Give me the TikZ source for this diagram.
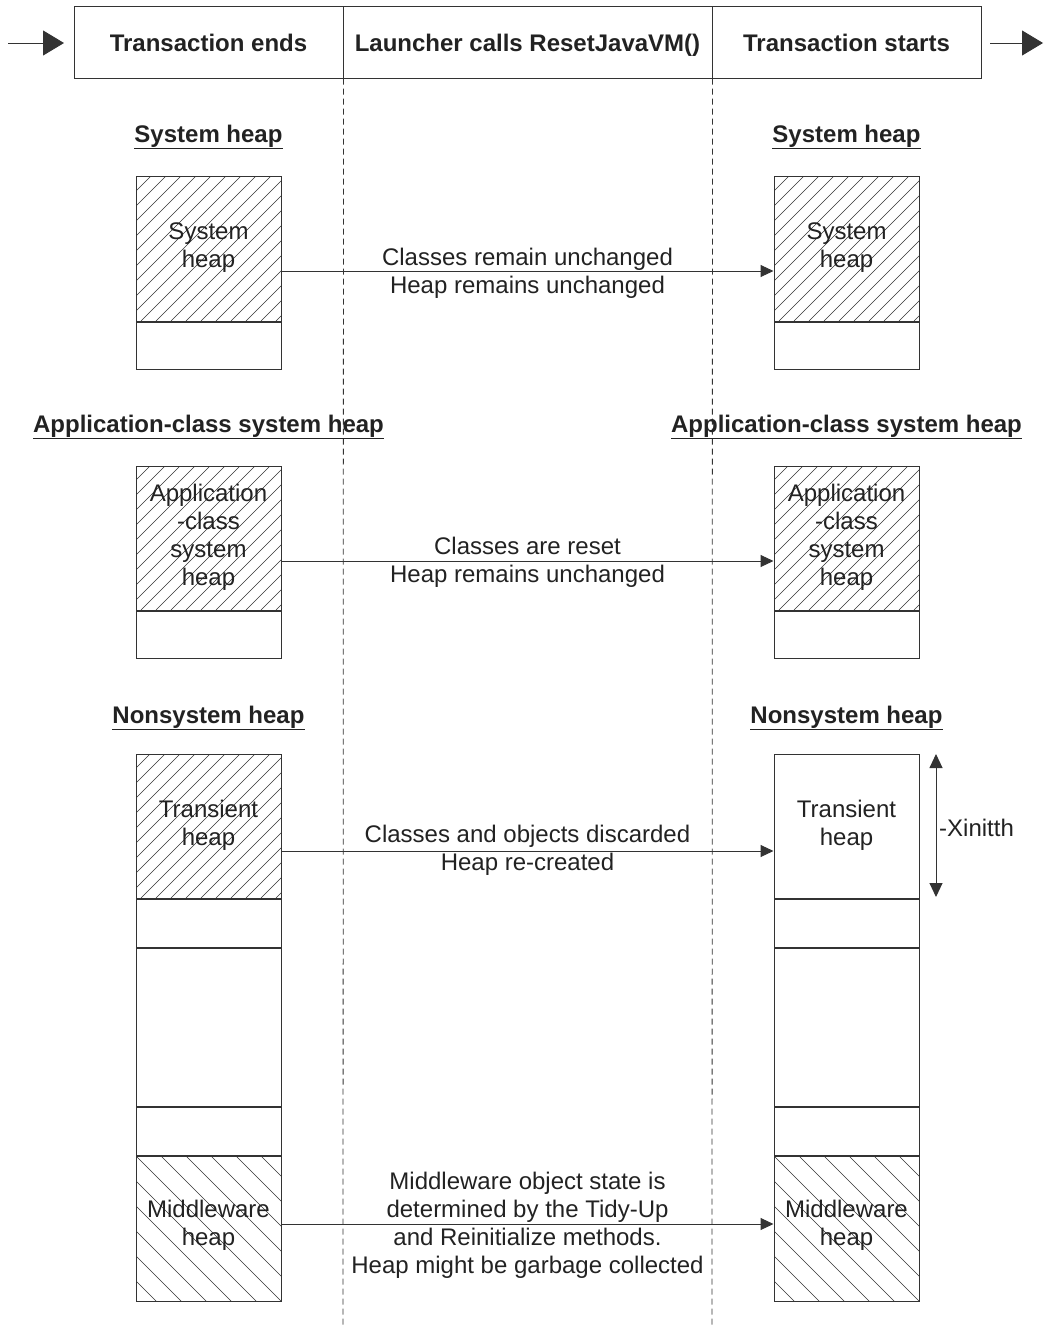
\documentclass[tikz,border=0pt]{standalone}
\usepackage{fontspec}
\setmainfont{Liberation Sans}
\usetikzlibrary{arrows.meta}
\definecolor{ink}{HTML}{222222}
\definecolor{ln}{HTML}{333333}
\begin{document}
\begin{tikzpicture}[x=1pt,y=-1pt,
  every node/.style={font=\fontsize{24}{28}\selectfont, text=ink},
  hdr/.style={draw=ln, line width=1pt, minimum height=72pt, inner sep=0pt, text height=23pt, text depth=5pt, font=\fontsize{24}{28}\selectfont\bfseries},
  heap/.style={draw=ln, line width=1pt, minimum width=145pt, inner sep=0pt},
  hatchne/.style={path picture={\foreach \i in {-160,-145,...,160} \draw[line width=0.6pt, ln] ([xshift=\i pt]path picture bounding box.south west) -- ++(200,-200);}},
  hatchnw/.style={path picture={\foreach \i in {-175,-150,...,175} \draw[line width=0.6pt, ln] ([xshift=\i pt]path picture bounding box.north west) -- ++(200,200);}},
  inlabel/.style={align=center, inner sep=0pt},
  ttl/.style={font=\fontsize{24}{28}\selectfont\bfseries, inner sep=0pt},
  conn/.style={draw=ln, line width=1pt, -{Triangle[length=13pt,width=12pt]}},
  bigarr/.style={draw=ln, line width=1pt, -{Triangle[length=21pt,width=25pt]}},
  dim/.style={draw=ln, line width=1pt, {Triangle[length=14pt,width=13pt]}-{Triangle[length=14pt,width=13pt]}},
  vdash/.style={draw=ln, line width=0.8pt, dash pattern=on 6pt off 4pt},
  msg/.style={align=center, inner sep=0pt}
]
\useasboundingbox (0,0) rectangle (1044,1328);
% header
\node[hdr, minimum width=269pt] (h1) at (208.5,42) {Transaction ends};
\node[hdr, minimum width=369pt] (h2) at (527.5,42) {Launcher calls ResetJavaVM()};
\node[hdr, minimum width=269pt] (h3) at (846.5,42) {Transaction starts};
\coordinate (inl) at (8,43);
\coordinate (inend) at (64,43);
\coordinate (outs) at (990,43);
\coordinate (outr) at (1043,43);
\draw[bigarr] (inl) -- (inend);
\draw[bigarr] (outs) -- (outr);
% dashed lifelines
\coordinate (d1) at (343,1328);
\coordinate (d2) at (712,1328);
\draw[vdash] (h1.south east) -- (d1);
\draw[vdash] (h2.south east) -- (d2);

% titles
\node[ttl] (t1l) at (208.5,137) {\underline{System heap}};
\node[ttl] (t1r) at (846.5,137) {\underline{System heap}};
\node[ttl] (t2l) at (208.5,427) {\underline{Application-class system heap}};
\node[ttl] (t2r) at (846.5,427) {\underline{Application-class system heap}};
\node[ttl] (t3l) at (208.5,718) {\underline{Nonsystem heap}};
\node[ttl] (t3r) at (846.5,718) {\underline{Nonsystem heap}};

% System heap boxes
\node[heap, hatchne, minimum height=145pt] (s1l) at (208.5,248.5) {};
\node[heap, minimum height=47pt, anchor=north] (s2l) at (s1l.south) {};
\node[heap, hatchne, minimum height=145pt] (s1r) at (846.5,248.5) {};
\node[heap, minimum height=47pt, anchor=north] (s2r) at (s1r.south) {};
\node[inlabel] (s1lt) at (208.5,248) {System\\heap};
\node[inlabel] (s1rt) at (846.5,248) {System\\heap};

% Application-class boxes
\node[heap, hatchne, minimum height=144pt] (a1l) at (208.5,538) {};
\node[heap, minimum height=47pt, anchor=north] (a2l) at (a1l.south) {};
\node[heap, hatchne, minimum height=144pt] (a1r) at (846.5,538) {};
\node[heap, minimum height=47pt, anchor=north] (a2r) at (a1r.south) {};
\node[inlabel] (a1lt) at (208.5,537) {Application\\-class\\system\\heap};
\node[inlabel] (a1rt) at (846.5,537) {Application\\-class\\system\\heap};

% Nonsystem boxes
\node[heap, hatchne, minimum height=144pt] (n1l) at (208.5,826) {};
\node[heap, minimum height=48pt, anchor=north] (n2l) at (n1l.south) {};
\node[heap, minimum height=158pt, anchor=north] (n3l) at (n2l.south) {};
\node[heap, minimum height=48pt, anchor=north] (n4l) at (n3l.south) {};
\node[heap, hatchnw, minimum height=145pt, anchor=north] (n5l) at (n4l.south) {};
\node[heap, minimum height=144pt] (n1r) at (846.5,826) {};
\node[heap, minimum height=48pt, anchor=north] (n2r) at (n1r.south) {};
\node[heap, minimum height=158pt, anchor=north] (n3r) at (n2r.south) {};
\node[heap, minimum height=48pt, anchor=north] (n4r) at (n3r.south) {};
\node[heap, hatchnw, minimum height=145pt, anchor=north] (n5r) at (n4r.south) {};
\node[inlabel] (n1lt) at (208.5,825) {Transient\\heap};
\node[inlabel] (n1rt) at (846.5,825) {Transient\\heap};
\node[inlabel] (n5lt) at (208.5,1225) {Middleware\\heap};
\node[inlabel] (n5rt) at (846.5,1225) {Middleware\\heap};

% -Xinitth dimension
\coordinate (xa) at (936,754);
\coordinate (xb) at (936,897);
\draw[dim] (xa) -- (xb);
\node[anchor=west, inner sep=0pt] (xlab) at (939,828) {-Xinitth};

% connectors
\draw[conn] (s1l.east |- 0,271) -- (s1r.west |- 0,271);
\node[msg] (m1) at (527.5,273) {Classes remain unchanged\\Heap remains unchanged};
\draw[conn] (a1l.east |- 0,561) -- (a1r.west |- 0,561);
\node[msg] (m2) at (527.5,562) {Classes are reset\\Heap remains unchanged};
\draw[conn] (n1l.east |- 0,851) -- (n1r.west |- 0,851);
\node[msg] (m3) at (527.5,850) {Classes and objects discarded\\Heap re-created};
\draw[conn] (n5l.east |- 0,1224) -- (n5r.west |- 0,1224);
\node[msg] (m4) at (527.5,1225) {Middleware object state is\\determined by the Tidy-Up\\and Reinitialize methods.\\Heap might be garbage collected};
\end{tikzpicture}
\end{document}
